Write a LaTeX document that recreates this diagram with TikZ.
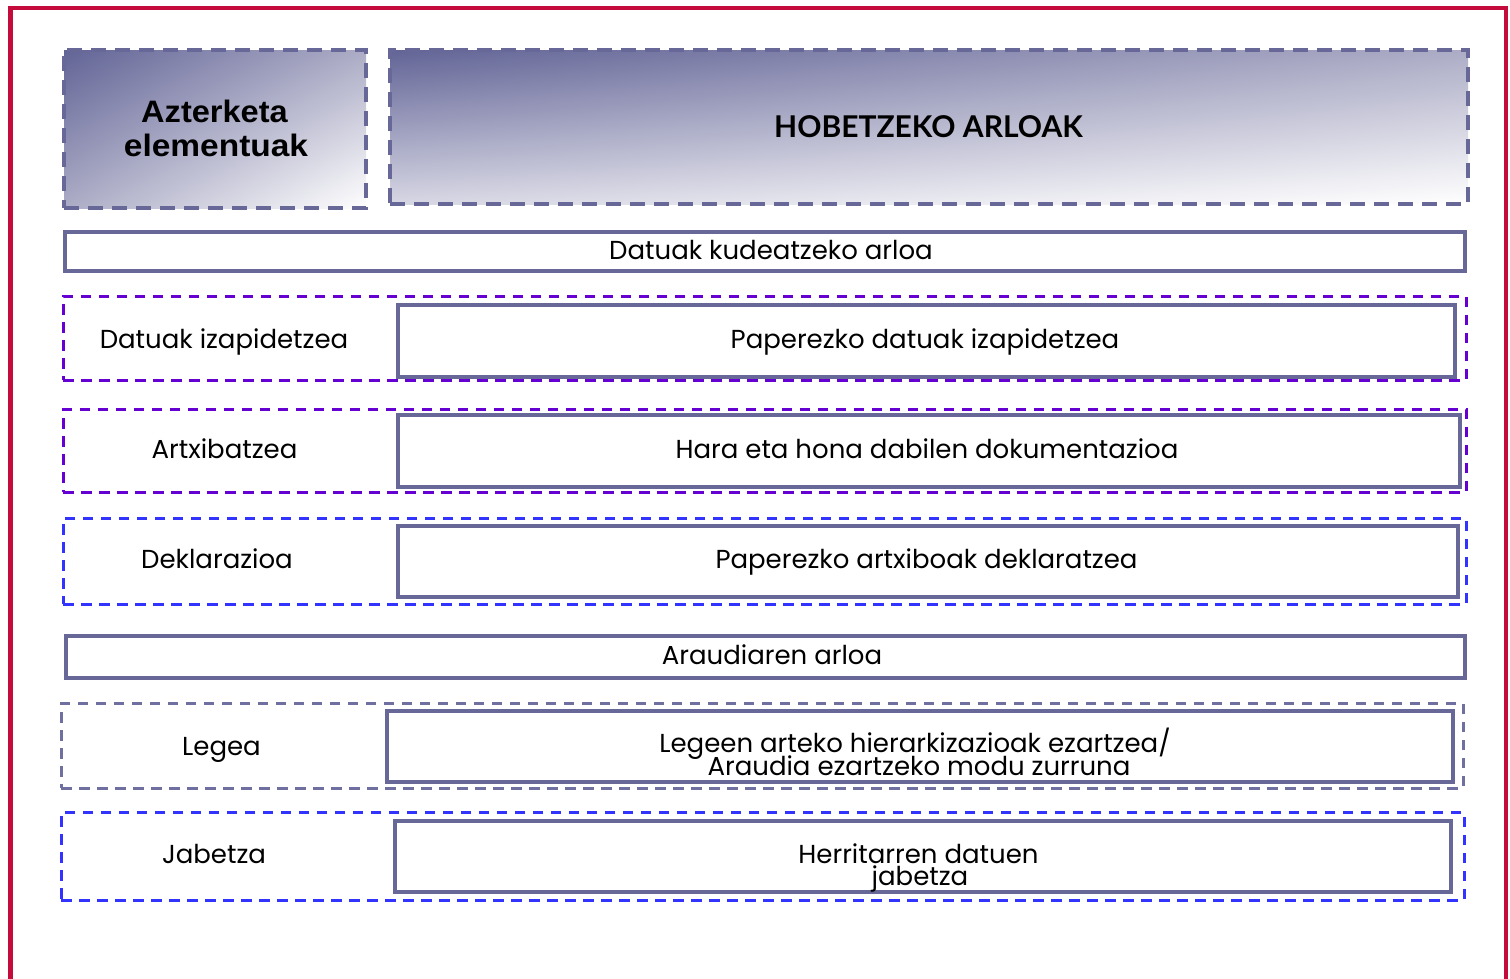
\documentclass[tikz,border=0pt]{standalone}
\usetikzlibrary{shadings}
\usepackage{fontspec}
\setmainfont{Poppins}
\newfontfamily\hdrfont{Lato}
\newfontfamily\azfont{Liberation Sans}
\definecolor{frameRed}{RGB}{197,10,60}
\definecolor{boxLine}{RGB}{104,104,152}
\definecolor{hdrDark}{RGB}{98,100,150}
\definecolor{hdrMid}{RGB}{172,172,198}
\definecolor{hdrLow}{RGB}{215,215,228}
\definecolor{dashPurple}{RGB}{102,0,210}
\definecolor{dashBlue}{RGB}{51,51,255}
\definecolor{dashGray}{RGB}{112,112,160}
\tikzset{
  every node/.style={inner sep=0pt, outer sep=0pt},
  hdrbox/.style={rectangle, draw=boxLine, line width=4.5pt, dash pattern=on 15pt off 9pt},
  solidbox/.style={rectangle, draw=boxLine, line width=4pt},
  rowdash/.style={rectangle, line width=3pt, dash pattern=on 10.5pt off 7.5pt},
  txt/.style={anchor=base, font=\fontsize{26}{31}\selectfont},
  azt/.style={anchor=base, font=\azfont\bfseries\fontsize{31}{34}\selectfont},
  hobt/.style={anchor=base, font=\hdrfont\bfseries\fontsize{30}{34}\selectfont}
}
\begin{document}
\begin{tikzpicture}[x=1pt,y=-1pt]
\useasboundingbox (0,0) rectangle (1510,978);
% frame
\draw[frameRed, line width=4.5pt] (10.5,980) -- (10.5,8) -- (1506,8) -- (1506,980);
% header boxes
\shade[upper left=hdrDark, upper right=hdrMid, lower left=hdrMid, lower right=white] (64,50) rectangle (366,208);
\node[hdrbox, minimum width=302pt, minimum height=158pt] (h1) at (215,129) {};
\shade[upper left=hdrDark, upper right=hdrMid, lower left=hdrLow, lower right=white] (390,50) rectangle (1468,204);
\node[hdrbox, minimum width=1078pt, minimum height=154pt] (h2) at (929,127) {};
\node[azt] (az1) at (214.5,122) {\scalebox{1.05}[1]{Azterketa}};
\node[azt] (az2) at (216,156.7) {\scalebox{1.08}[1]{elementuak}};
\node[hobt] (hob) at (928.5,137) {HOBETZEKO ARLOAK};
% Datuak kudeatzeko arloa
\node[solidbox, minimum width=1400pt, minimum height=39pt] (dk) at (765,251.5) {};
\node[txt] (dkt) at (771,259) {Datuak kudeatzeko arloa};
% row 1
\node[rowdash, draw=dashPurple, minimum width=1403pt, minimum height=84pt] (r1) at (764.5,338) {};
\node[solidbox, fill=white, minimum width=1057pt, minimum height=72pt] (r1b) at (926.5,341) {};
\node[txt] (r1l) at (224,348) {Datuak izapidetzea};
\node[txt] (r1t) at (925,348) {Paperezko datuak izapidetzea};
% row 2
\node[rowdash, draw=dashPurple, minimum width=1403pt, minimum height=83pt] (r2) at (764.5,450.5) {};
\node[solidbox, fill=white, minimum width=1062pt, minimum height=72pt] (r2b) at (929,451) {};
\node[txt] (r2l) at (224.5,458) {Artxibatzea};
\node[txt] (r2t) at (927,458) {Hara eta hona dabilen dokumentazioa};
% row 3
\node[rowdash, draw=dashBlue, minimum width=1403pt, minimum height=86pt] (r3) at (764.5,561) {};
\node[solidbox, fill=white, minimum width=1060pt, minimum height=71pt] (r3b) at (928,561.5) {};
\node[txt] (r3l) at (217,568) {Deklarazioa};
\node[txt] (r3t) at (926.5,568) {Paperezko artxiboak deklaratzea};
% Araudiaren arloa
\node[solidbox, minimum width=1399pt, minimum height=42pt] (ar) at (765.5,657) {};
\node[txt] (art) at (772,664) {Araudiaren arloa};
% Legea
\node[rowdash, draw=dashGray, minimum width=1402pt, minimum height=85pt] (r4) at (762,745.5) {};
\node[solidbox, fill=white, minimum width=1066pt, minimum height=71pt] (r4b) at (920,746.5) {};
\node[txt] (r4l) at (221.5,755) {Legea};
\node[txt] (r4t1) at (915,752) {Legeen arteko hierarkizazioak ezartzea/};
\node[txt] (r4t2) at (919,775) {Araudia ezartzeko modu zurruna};
% Jabetza
\node[rowdash, draw=dashBlue, minimum width=1403pt, minimum height=88pt] (r5) at (762.5,856) {};
\node[solidbox, fill=white, minimum width=1056pt, minimum height=71pt] (r5b) at (923,856.5) {};
\node[txt] (r5l) at (214,863) {Jabetza};
\node[txt] (r5t1) at (918.5,863) {Herritarren datuen};
\node[txt] (r5t2) at (920,885) {jabetza};
\end{tikzpicture}
\end{document}
